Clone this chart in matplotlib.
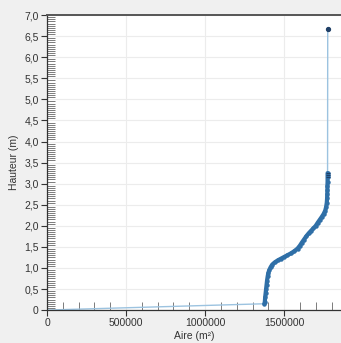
import matplotlib
matplotlib.use("Agg")
import matplotlib.pyplot as plt
from matplotlib.ticker import MultipleLocator, FuncFormatter

# courbe hauteur / surface du bassin
aire = [0, 1375000, 1378000, 1380000, 1383000, 1386000, 1389000, 1392000,
        1396000, 1400000, 1406000, 1415000, 1425000, 1440000, 1460000,
        1480000, 1500000, 1520000, 1545000, 1565000, 1585000, 1600000,
        1612000, 1625000, 1640000, 1655000, 1670000, 1685000, 1700000,
        1712000, 1725000, 1738000, 1750000, 1760000, 1766000, 1770000,
        1772000, 1773000, 1774000, 1774000, 1775000, 1775000, 1775000,
        1775000, 1776000]
hauteur = [0, 0.15, 0.20, 0.30, 0.40, 0.50, 0.60, 0.70,
           0.80, 0.88, 0.95, 1.02, 1.08, 1.13, 1.18,
           1.22, 1.26, 1.30, 1.35, 1.40, 1.46, 1.53,
           1.60, 1.67, 1.75, 1.82, 1.88, 1.94, 2.00,
           2.07, 2.14, 2.21, 2.28, 2.36, 2.45, 2.55,
           2.65, 2.75, 2.85, 2.95, 3.05, 3.15, 3.20,
           3.25, 6.67]

plt.rcParams['font.family'] = ['Liberation Sans', 'DejaVu Sans']

fig = plt.figure(figsize=(3.41, 3.43), dpi=100, facecolor='#f0f0f0')
ax = fig.add_axes([0.138, 0.096, 0.862, 0.86])
ax.set_facecolor('white')

# liaison fine entre tous les points
ax.plot(aire, hauteur, color='#9cc3e0', lw=1.0, zorder=2)
# points serres de la courbe (trait epais)
ax.plot(aire[1:-1], hauteur[1:-1], color='#2f6fa7', lw=3.0,
        solid_capstyle='round', marker='o', ms=2.2, mec='#2f6fa7',
        zorder=3)
ax.plot(aire[-4:-1], hauteur[-4:-1], ls='none', marker='_', ms=3,
        mew=0.8, color='#1f3f66', zorder=4)
ax.plot([aire[-1]], [hauteur[-1]], ls='none', marker='o', ms=2.8,
        color='#1f3f66', zorder=4)

ax.set_xlim(0, 1860000)
ax.set_ylim(0, 7.0)
ax.xaxis.set_major_locator(MultipleLocator(500000))
ax.xaxis.set_minor_locator(MultipleLocator(100000))
ax.yaxis.set_major_locator(MultipleLocator(0.5))
ax.yaxis.set_minor_locator(MultipleLocator(0.05))
ax.yaxis.set_major_formatter(FuncFormatter(
    lambda v, p: '0' if v == 0 else f'{v:.1f}'.replace('.', ',')))
ax.xaxis.set_major_formatter(FuncFormatter(lambda v, p: f'{int(v)}'))

ax.tick_params(axis='both', which='major', direction='out', length=4,
               width=0.8, color='#333333', labelsize=7.5, labelcolor='#333333',
               pad=2)
ax.tick_params(axis='both', which='minor', direction='in', length=6,
               width=0.6, color='#666666')
ax.grid(True, which='major', color='#ececec', lw=0.8)
ax.set_axisbelow(True)

for s in ['left', 'bottom']:
    ax.spines[s].set_color('#333333')
    ax.spines[s].set_linewidth(0.9)
ax.spines['top'].set_color('#555555')
ax.spines['top'].set_linewidth(1.4)
ax.spines['right'].set_visible(False)

ax.set_xlabel('Aire (m²)', fontsize=7.5, color='#333333', labelpad=2)
ax.set_ylabel('Hauteur (m)', fontsize=7.5, color='#333333', labelpad=4)

fig.savefig('out.png', dpi=100, facecolor=fig.get_facecolor())
